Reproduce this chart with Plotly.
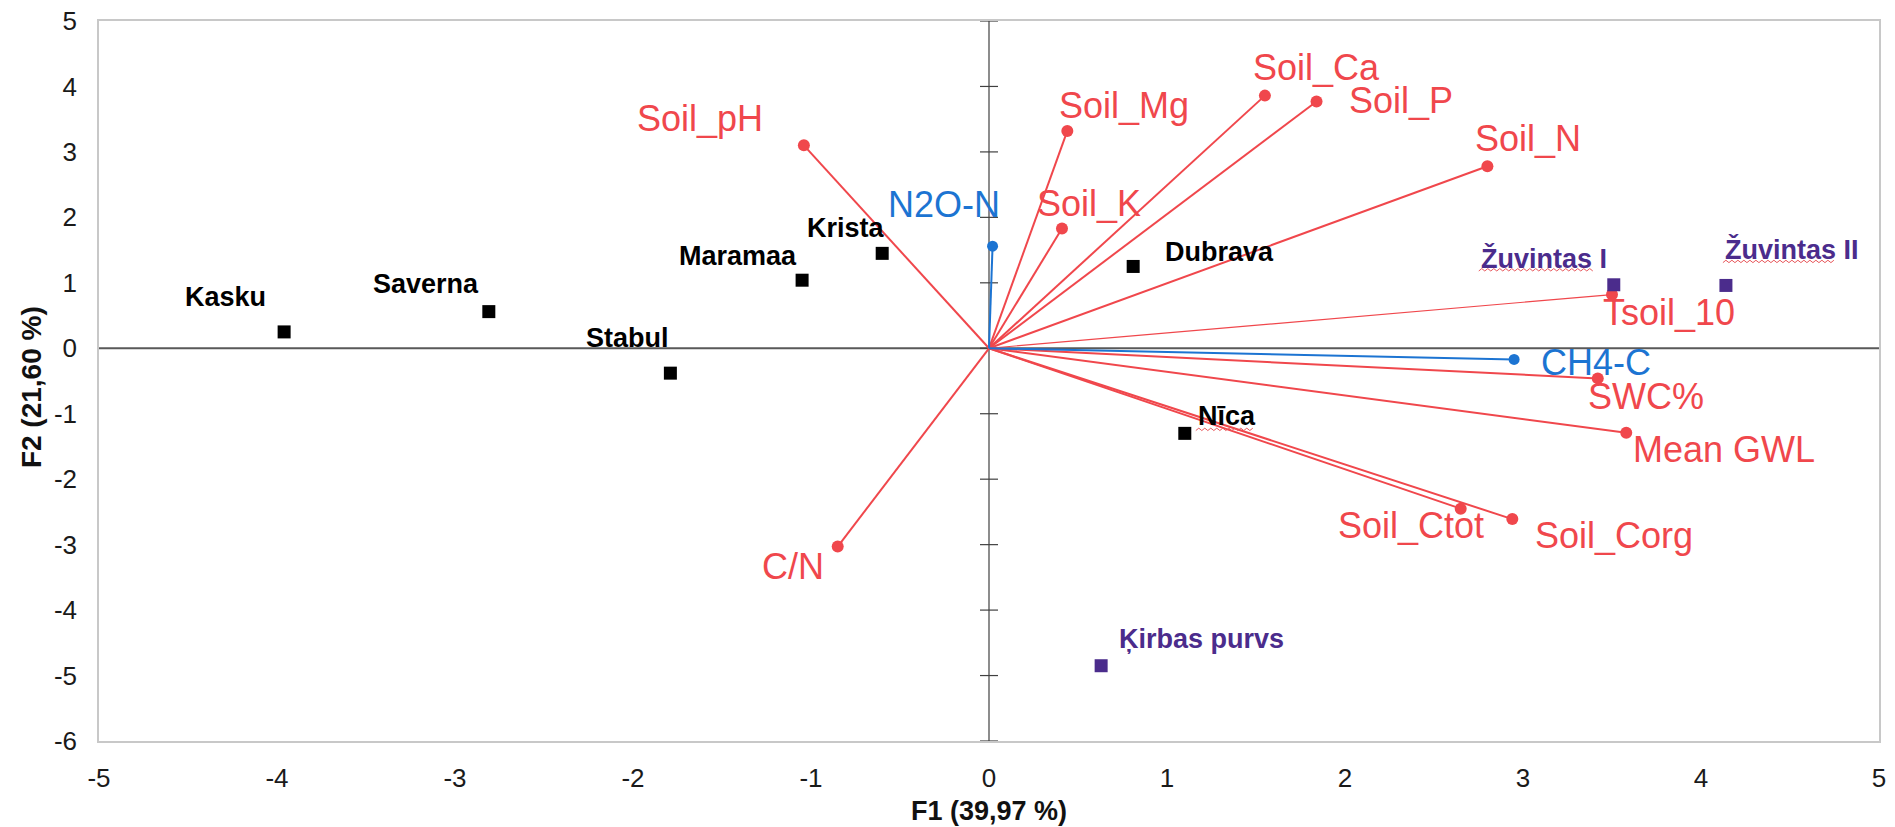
import plotly.graph_objects as go

# ---- data (PCA biplot, F1 x F2) ----
var_names = ["Soil_pH", "Soil_Mg", "Soil_K", "Soil_Ca", "Soil_P", "Soil_N", "Tsoil_10",
             "SWC%", "Mean GWL", "Soil_Ctot", "Soil_Corg", "C/N", "N2O-N", "CH4-C"]
var_f1 = [-1.04, 0.44, 0.41, 1.55, 1.84, 2.80, 3.50, 3.42, 3.58, 2.65, 2.94, -0.85, 0.02, 2.95]
var_f2 = [3.10, 3.32, 1.83, 3.86, 3.77, 2.78, 0.82, -0.46, -1.29, -2.45, -2.61, -3.03, 1.56, -0.17]
var_kind = ["soil"] * 12 + ["flux"] * 2

site_names = ["Kasku", "Saverna", "Stabul", "Maramaa", "Krista", "Dubrava", "Nīca",
              "Žuvintas I", "Žuvintas II", "Ķirbas purvs"]
site_f1 = [-3.96, -2.81, -1.79, -1.05, -0.60, 0.81, 1.10, 3.51, 4.14, 0.63]
site_f2 = [0.25, 0.56, -0.38, 1.04, 1.45, 1.25, -1.30, 0.97, 0.96, -4.85]
site_group = ["a", "a", "a", "a", "a", "a", "a", "b", "b", "b"]

x_title = "F1 (39,97 %)"
y_title = "F2 (21,60 %)"
x_ticks = list(range(-5, 6))
y_ticks = list(range(-6, 6))
x_ticktext = [str(t) for t in x_ticks]
y_ticktext = [str(t) for t in y_ticks]

# ---- styles / label placement (pixel offsets) ----
RED = "#F0474C"
BLUE = "#1C74D2"
PURPLE = "#4B2C8C"
FONT = "Liberation Sans, Arial, sans-serif"

var_label_shift = {
    "Soil_pH": (-104, 27), "Soil_Mg": (57, 25), "Soil_K": (27, 25), "Soil_Ca": (52, 28),
    "Soil_P": (84, 1), "Soil_N": (41, 28), "Tsoil_10": (57, -18), "SWC%": (48, -18),
    "Mean GWL": (98, -17), "Soil_Ctot": (-50, -17), "Soil_Corg": (102, -16),
    "C/N": (-45, -20), "N2O-N": (-49, 42), "CH4-C": (82, -3),
}
site_label_shift = {
    "Kasku": (-59, 35), "Saverna": (-63, 28), "Stabul": (-43, 35), "Maramaa": (-64, 24),
    "Krista": (-36, 25), "Dubrava": (86, 14), "Nīca": (42, 17), "Žuvintas I": (-70, 26),
    "Žuvintas II": (66, 36), "Ķirbas purvs": (100, 27),
}
# spell-check squiggles seen under some site labels: (x from, x to, y) in px from the point
squiggle = {"Nīca": (11, 70, 4), "Žuvintas I": (-135, -19, 15), "Žuvintas II": (-3, 110, 24)}

fig = go.Figure()

# vectors
for name, vx, vy, kind in zip(var_names, var_f1, var_f2, var_kind):
    col = RED if kind == "soil" else BLUE
    w = 1.2 if name == "Tsoil_10" else 2
    fig.add_trace(go.Scatter(x=[0, vx], y=[0, vy], mode="lines",
                             line=dict(color=col, width=w), hoverinfo="skip", showlegend=False))
for kind, col, size in (("soil", RED, 12), ("flux", BLUE, 11)):
    xs = [vx for vx, k in zip(var_f1, var_kind) if k == kind]
    ys = [vy for vy, k in zip(var_f2, var_kind) if k == kind]
    fig.add_trace(go.Scatter(x=xs, y=ys, mode="markers",
                             marker=dict(color=col, size=size, symbol="circle"),
                             showlegend=False))

# sites
for grp, col in (("a", "#000000"), ("b", PURPLE)):
    xs = [sx for sx, g in zip(site_f1, site_group) if g == grp]
    ys = [sy for sy, g in zip(site_f2, site_group) if g == grp]
    fig.add_trace(go.Scatter(x=xs, y=ys, mode="markers",
                             marker=dict(color=col, size=13, symbol="square"),
                             showlegend=False))

annotations = []
for name, vx, vy, kind in zip(var_names, var_f1, var_f2, var_kind):
    dx, dy = var_label_shift[name]
    annotations.append(dict(x=vx, y=vy, xref="x", yref="y", text=name, showarrow=False,
                            xshift=dx, yshift=dy, xanchor="center", yanchor="middle",
                            font=dict(family=FONT, size=36,
                                      color=RED if kind == "soil" else BLUE)))
for name, sx, sy, grp in zip(site_names, site_f1, site_f2, site_group):
    dx, dy = site_label_shift[name]
    annotations.append(dict(x=sx, y=sy, xref="x", yref="y", text="<b>%s</b>" % name,
                            showarrow=False, xshift=dx, yshift=dy,
                            xanchor="center", yanchor="middle",
                            font=dict(family=FONT, size=27,
                                      color="#000000" if grp == "a" else PURPLE)))
annotations.append(dict(x=0.5, y=-0.097, xref="paper", yref="paper", text="<b>%s</b>" % x_title,
                        showarrow=False, xanchor="center", yanchor="middle",
                        font=dict(family=FONT, size=27, color="#111111")))
annotations.append(dict(x=-0.038, y=0.492, xref="paper", yref="paper", text="<b>%s</b>" % y_title,
                        showarrow=False, xanchor="center", yanchor="middle", textangle=-90,
                        font=dict(family=FONT, size=28, color="#111111")))

shapes = [
    dict(type="line", xref="x", yref="y", x0=-5, x1=5, y0=0, y1=0,
         line=dict(color="#595959", width=2.2), layer="below"),
    dict(type="line", xref="x", yref="y", x0=0, x1=0, y0=y_ticks[0], y1=y_ticks[-1],
         line=dict(color="#404040", width=1.2), layer="below"),
]
for t in y_ticks:
    shapes.append(dict(type="line", xref="x", yref="y", xsizemode="pixel", xanchor=0,
                       x0=-9, x1=9, y0=t, y1=t, line=dict(color="#404040", width=1.2),
                       layer="below"))
for name, sx, sy in zip(site_names, site_f1, site_f2):
    if name not in squiggle:
        continue
    a, b, yy = squiggle[name]
    pts = []
    px, k = a, 0
    while px <= b:
        pts.append("%s%d,%.1f" % ("M" if k == 0 else "L", px, yy + (1.2 if k % 2 else -1.2)))
        px += 3
        k += 1
    shapes.append(dict(type="path", xref="x", yref="y", xsizemode="pixel", ysizemode="pixel",
                       xanchor=sx, yanchor=sy, path=" ".join(pts),
                       line=dict(color="#E8585C", width=1)))

fig.update_layout(
    width=1895, height=827,
    margin=dict(l=91, r=24, t=13, b=94, autoexpand=False),
    paper_bgcolor="white", plot_bgcolor="white",
    annotations=annotations, shapes=shapes,
    xaxis=dict(range=[-5, 5], tickvals=x_ticks, ticktext=x_ticktext, showgrid=False,
               zeroline=False, automargin=False, ticklabeloverflow="allow",
               showline=True, mirror=True, linecolor="#C8C8C8", linewidth=1.5,
               ticks="", ticklabelstandoff=13,
               tickfont=dict(family=FONT, size=26, color="#1a1a1a")),
    yaxis=dict(range=[-6, 5], tickvals=y_ticks, ticktext=y_ticktext, showgrid=False,
               zeroline=False, automargin=False, ticklabeloverflow="allow",
               showline=True, mirror=True, linecolor="#C8C8C8", linewidth=1.5,
               ticks="", ticklabelstandoff=15,
               tickfont=dict(family=FONT, size=26, color="#1a1a1a")),
)

fig.write_html("out.html")
